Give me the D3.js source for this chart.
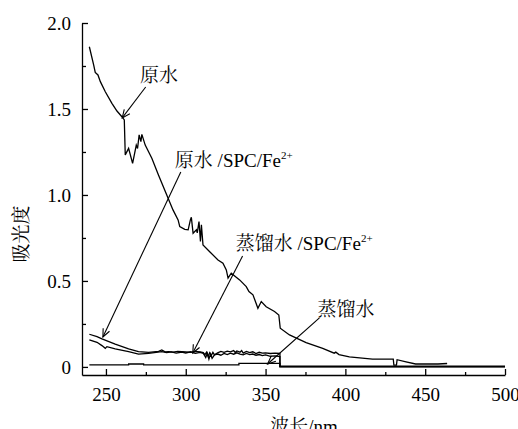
<!DOCTYPE html>
<html>
<head>
<meta charset="utf-8">
<script src="https://cdn.jsdelivr.net/npm/d3@7"></script>
<style>
  html, body { margin: 0; padding: 0; background: #fff; }
  svg { display: block; }
</style>
</head>
<body>
<svg id="chart" width="518" height="429"></svg>
<script>
// UV absorbance spectra: [wavelength (nm), absorbance]
const rawWater = [
  [239.6,1.862],[242.3,1.756],[243.3,1.713],[245,1.698],[246.5,1.659],[249.6,1.60],
  [253.75,1.533],[256.9,1.488],[260,1.455],[261.5,1.436],[262.1,1.233],[264.2,1.271],
  [266.7,1.184],[269,1.29],[269.8,1.27],[270.8,1.349],[271.9,1.31],[272.5,1.352],
  [274.6,1.29],[278.75,1.213],[282.9,1.116],[288.1,1.0],[292,0.913],[295.2,0.855],
  [296.25,0.816],[299.4,0.80],[301.5,0.797],[302.9,0.855],[303.5,0.87],[304.6,0.777],
  [306.7,0.797],[307.2,0.78],[308.3,0.845],[309.2,0.729],[309.8,0.826],[310.8,0.709],
  [315,0.67],[320.2,0.622],[323.3,0.603],[325.4,0.564],[326.5,0.516],[328.5,0.545],
  [333.75,0.506],[337.9,0.467],[339.6,0.438],[342.1,0.419],[345.2,0.341],[347.3,0.38],
  [350.4,0.35],[355.6,0.322],[358.3,0.302],[359.2,0.225],[365,0.186],[375.4,0.141],
  [385.8,0.108],[393,0.08],[394,0.086],[396,0.072],[402.5,0.058],[417,0.045],
  [430,0.045],[430.4,0.01],[432,0.01],[432.4,0.042],[438,0.03],[444,0.017],
  [458,0.017],[463.75,0.02]
];

const rawWaterSPC = [
  [239.6,0.190],[244.4,0.176],[247.5,0.163],[255.8,0.132],[264.2,0.105],[270.4,0.089],
  [276.7,0.085],[283,0.090],[285,0.099],[287,0.088],[289.2,0.089],[292,0.086],
  [295,0.090],[297.5,0.089],[300,0.088],[303,0.085],[306,0.090],[309,0.087],
  [311,0.083],[312,0.07],[313,0.086],[314,0.062],[315,0.083],[316,0.066],[317,0.085],
  [318,0.07],[320,0.082],[322,0.090],[324,0.085],[326,0.092],[328,0.088],[330,0.095],
  [331,0.084],[332,0.093],[334,0.086],[335,0.095],[336,0.080],[338,0.090],[340,0.083],
  [342,0.088],[344,0.078],[346,0.085],[348,0.080],[350,0.082],[353,0.078],[356,0.080],
  [359,0.079],[359,0.004],[500,0.004]
];

const distilledSPC = [
  [239.6,0.157],[244.4,0.143],[247.5,0.124],[249.6,0.108],[250.6,0.118],[255.8,0.105],
  [264.2,0.089],[270.4,0.074],[276.7,0.079],[285,0.089],[288,0.083],[291,0.087],
  [294,0.080],[297.5,0.086],[300,0.081],[303,0.088],[306,0.079],[309,0.084],
  [311,0.078],[312.5,0.055],[313.5,0.08],[314.5,0.045],[315.5,0.075],[316.5,0.05],
  [318,0.07],[320,0.075],[322,0.068],[324,0.078],[326,0.072],[328,0.08],[330,0.074],
  [332,0.082],[334,0.075],[336,0.07],[338,0.078],[340,0.072],[342,0.075],[344,0.068],
  [346,0.072],[348,0.066],[350,0.07],[353,0.062],[356,0.064],[359,0.06],[359,0.0],
  [500,0.0]
];

const distilled = [
  [239.6,0.012],[264.2,0.012],[264.2,0.017],[273.6,0.017],[273.6,0.012],[333.3,0.012],
  [333.3,0.021],[359,0.021],[359,0.002],[500,0.002]
];

const seriesList = [rawWater, rawWaterSPC, distilledSPC, distilled];

// Axis ticks
const xMajor = [250, 300, 350, 400, 450, 500];
const xMinor = [275, 325, 375, 425, 475];
const yMajor = [0, 0.5, 1.0, 1.5, 2.0];
const yMinor = [0.25, 0.75, 1.25, 1.75];

// Callouts: label anchor (left/baseline), arrow start and arrow tip in data units
const labelMain = ["原水", "原水 ", "蒸馏水 ", "蒸馏水"];
const labelSuffix = ["", "/SPC/Fe", "/SPC/Fe", ""];
const labelSup = ["", "2+", "2+", ""];
const labelPos = [[271.3,1.655],[293.1,1.163],[331.25,0.68],[382.5,0.297]];
const arrowFrom = [[274.9,1.628],[296.9,1.134],[335.6,0.645],[383.75,0.285]];
const arrowTo = [[260.2,1.448],[248.1,0.174],[304.4,0.081],[351.25,0.017]];

const SERIF = '"Liberation Serif", "Times New Roman", serif';
const CJK = '"Noto Serif CJK SC", "Noto Sans CJK SC", serif';

const svg = d3.select("#chart");

const x = d3.scaleLinear().domain([235, 500]).range([82, 505]);
const y = d3.scaleLinear().domain([-0.047, 2.0]).range([375, 23]);

// Axes
const xAxis = svg.append("g").attr("transform", "translate(0,375)")
  .call(d3.axisBottom(x).tickValues(xMajor).tickSizeInner(-6).tickSizeOuter(0).tickPadding(13));
svg.append("g").attr("transform", "translate(0,375)")
  .call(d3.axisBottom(x).tickValues(xMinor).tickSizeInner(-3).tickSizeOuter(0).tickFormat(""))
  .select(".domain").remove();

const yAxis = svg.append("g").attr("transform", "translate(82,0)")
  .call(d3.axisLeft(y).tickValues(yMajor).tickSizeInner(-6).tickSizeOuter(0).tickPadding(11)
    .tickFormat(d => d === 0 ? "0" : d3.format(".1f")(d)));
svg.append("g").attr("transform", "translate(82,0)")
  .call(d3.axisLeft(y).tickValues(yMinor).tickSizeInner(-4).tickSizeOuter(0).tickFormat(""))
  .select(".domain").remove();

svg.selectAll(".tick line, .domain").attr("stroke", "#000").attr("stroke-width", 1.3);
[xAxis, yAxis].forEach(a => {
  a.attr("font-family", SERIF).attr("font-size", 19);
  a.selectAll("text").attr("fill", "#000").attr("font-family", SERIF).attr("font-size", 19);
});

// Axis titles
svg.append("text")
  .attr("transform", "translate(28,234) rotate(-90)")
  .attr("text-anchor", "middle").attr("font-size", 19).attr("fill", "#000")
  .attr("font-family", CJK)
  .text("吸光度");

const xt = svg.append("text").attr("x", 304).attr("y", 433)
  .attr("text-anchor", "middle").attr("font-size", 19).attr("fill", "#000");
xt.append("tspan").attr("font-family", CJK).text("波长");
xt.append("tspan").attr("font-family", SERIF).text("/nm");

// Spectra
const line = d3.line().x(d => x(d[0])).y(d => y(d[1]));
svg.append("g").selectAll("path").data(seriesList).join("path")
  .attr("d", line).attr("fill", "none").attr("stroke", "#000")
  .attr("stroke-width", 1.3).attr("stroke-linejoin", "miter");

// Callout arrows
svg.append("defs").append("marker")
  .attr("id", "head").attr("viewBox", "-10 -5 12 10")
  .attr("refX", 0).attr("refY", 0)
  .attr("markerWidth", 12).attr("markerHeight", 10)
  .attr("markerUnits", "userSpaceOnUse").attr("orient", "auto")
  .append("path").attr("d", "M-8,-3.5 L0,0 L-8,3.5")
  .attr("fill", "none").attr("stroke", "#000").attr("stroke-width", 1.1);

svg.append("g").selectAll("line").data(arrowFrom).join("line")
  .attr("x1", d => x(d[0])).attr("y1", d => y(d[1]))
  .attr("x2", (d, i) => x(arrowTo[i][0])).attr("y2", (d, i) => y(arrowTo[i][1]))
  .attr("stroke", "#000").attr("stroke-width", 1.1)
  .attr("marker-end", "url(#head)");

// Callout labels
const labels = svg.append("g").selectAll("text").data(labelPos).join("text")
  .attr("x", d => x(d[0])).attr("y", d => y(d[1]))
  .attr("font-size", 19).attr("fill", "#000");
labels.append("tspan").attr("font-family", CJK).text((d, i) => labelMain[i]);
labels.append("tspan").attr("font-family", SERIF).text((d, i) => labelSuffix[i]);
labels.append("tspan").attr("font-family", SERIF).attr("font-size", 11)
  .attr("dy", -8).text((d, i) => labelSup[i]);
</script>
</body>
</html>
